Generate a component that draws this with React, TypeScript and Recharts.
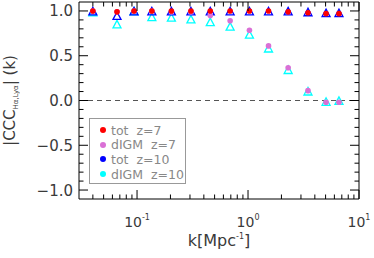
import React from 'react';
import { ScatterChart, Scatter, XAxis, YAxis, ReferenceLine, Legend, Label } from 'recharts';

const kValues = [0.04, 0.066, 0.094, 0.136, 0.204, 0.306, 0.457, 0.69, 1.03, 1.53, 2.3, 3.47, 5.05, 6.6];
const totZ7 = [1.0, 0.99, 1.0, 1.0, 1.0, 1.0, 1.0, 1.0, 1.0, 1.0, 0.99, 0.98, 0.97, 0.97];
const dIGMZ7 = [1.0, 0.99, 1.0, 1.0, 0.99, 0.99, 0.95, 0.89, 0.785, 0.61, 0.365, 0.11, -0.02, -0.02];
const totZ10 = [0.99, 0.94, 0.99, 0.99, 0.99, 0.99, 0.99, 0.99, 0.99, 0.99, 0.99, 0.98, 0.97, 0.97];
const dIGMZ10 = [0.98, 0.845, 0.99, 0.925, 0.92, 0.9, 0.87, 0.82, 0.73, 0.575, 0.335, 0.095, -0.02, -0.01];

const xMajor = [0.1, 1, 10];
const xMajorLabels = ['-1', '0', '1'];
const xMinor = [0.04, 0.05, 0.06, 0.07, 0.08, 0.09, 0.2, 0.3, 0.4, 0.5, 0.6, 0.7, 0.8, 0.9, 2, 3, 4, 5, 6, 7, 8, 9];
const yMajor = [-1, -0.5, 0, 0.5, 1];
const yMajorLabels = ['\u22121.0', '\u22120.5', '0.0', '0.5', '1.0'];
const yMinor = [-0.9, -0.8, -0.7, -0.6, -0.4, -0.3, -0.2, -0.1, 0.1, 0.2, 0.3, 0.4, 0.6, 0.7, 0.8, 0.9];

const FONT = 'DejaVu Sans';
const TEXT = '#3a3a3a';

const toPoints = (vals: number[]) => kValues.map((k, i) => ({ k, v: vals[i] }));

const series = [
  { name: 'tot z=7', color: '#ff0000', vals: totZ7, tri: false },
  { name: 'dIGM z=7', color: '#da70d6', vals: dIGMZ7, tri: false },
  { name: 'tot z=10', color: '#0000ff', vals: totZ10, tri: true },
  { name: 'dIGM z=10', color: '#00ffff', vals: dIGMZ10, tri: true },
];

const drawOrder = [3, 2, 1, 0];

const Dot = (color: string) => (p: any) => <circle cx={p.cx} cy={p.cy} r={2.8} fill={color} />;
const Tri = (color: string) => (p: any) => (
  <polygon
    points={`${p.cx},${p.cy - 4.5} ${p.cx - 4},${p.cy + 3} ${p.cx + 4},${p.cy + 3}`}
    fill="none"
    stroke={color}
    strokeWidth={1.3}
  />
);
const Nothing = () => <g />;

const isMajor = (list: number[], v: number) => list.some((m) => Math.abs(m - v) < 1e-9);

const XTick = ({ x, y, payload, dir, showLabel }: any) => {
  const major = isMajor(xMajor, payload.value);
  const len = major ? 9 : 4.5;
  const idx = xMajor.findIndex((m) => Math.abs(m - payload.value) < 1e-9);
  return (
    <g>
      <line x1={x} x2={x} y1={y} y2={y - dir * len} stroke="#000" strokeWidth={1} />
      {showLabel && major && (
        <text x={x} y={y + 28} textAnchor="middle" fontFamily={FONT} fontSize={14} fill={TEXT}>
          10
          <tspan dy={-7} fontSize={8}>{xMajorLabels[idx]}</tspan>
        </text>
      )}
    </g>
  );
};

const YTick = ({ x, y, payload, dir, showLabel }: any) => {
  const major = isMajor(yMajor, payload.value);
  const len = major ? 9 : 4.5;
  const idx = yMajor.findIndex((m) => Math.abs(m - payload.value) < 1e-9);
  return (
    <g>
      <line x1={x} x2={x + dir * len} y1={y} y2={y} stroke="#000" strokeWidth={1} />
      {showLabel && major && (
        <text x={x - 6} y={y + 5.5} textAnchor="end" fontFamily={FONT} fontSize={15} fill={TEXT}>
          {yMajorLabels[idx]}
        </text>
      )}
    </g>
  );
};

const YLabel = ({ viewBox }: any) => {
  const cy = viewBox.y + viewBox.height / 2;
  return (
    <text
      transform={`translate(15, ${cy}) rotate(-90)`}
      textAnchor="middle"
      fontFamily={FONT}
      fontSize={15}
      fill={TEXT}
    >
      |CCC
      <tspan dy={3} fontSize={7}>H{'\u03b1'},Ly{'\u03b1'}</tspan>
      <tspan dy={-3}>| (k)</tspan>
    </text>
  );
};

const XLabel = ({ viewBox }: any) => {
  const cx = viewBox.x + viewBox.width / 2;
  return (
    <text x={cx} y={viewBox.y + 47} textAnchor="middle" fontFamily={FONT} fontSize={16} fill={TEXT}>
      k[Mpc
      <tspan dy={-7} fontSize={8}>-1</tspan>
      <tspan dy={7}>]</tspan>
    </text>
  );
};

const LegendBox = () => (
  <div
    style={{
      border: '1px solid #999',
      width: 97,
      height: 66,
      boxSizing: 'border-box',
      padding: '4px 0 0 10px',
      fontFamily: FONT,
      fontSize: 12.5,
      color: '#888',
      background: '#fff',
    }}
  >
    {series.map((s) => (
      <div key={s.name} style={{ display: 'flex', alignItems: 'center', height: 14.6, whiteSpace: 'pre' }}>
        <span
          style={{ width: 6, height: 6, borderRadius: 3, background: s.color, display: 'inline-block', marginRight: 5 }}
        />
        {s.name.replace(' ', '  ')}
      </div>
    ))}
  </div>
);

export default function App() {
  return (
    <div style={{ width: 374, height: 258 }}>
      <style>{'body{margin:0}'}</style>
      <ScatterChart width={374} height={258} margin={{ top: 1, right: 14, bottom: 0, left: 0 }}>
        <XAxis
          xAxisId="b"
          dataKey="k"
          type="number"
          scale="log"
          domain={[0.03, 10]}
          allowDataOverflow
          ticks={[...xMajor, ...xMinor]}
          interval={0}
          height={59}
          tickSize={0}
          tickMargin={0}
          tickLine={false}
          axisLine={{ stroke: '#000' }}
          tick={<XTick dir={1} showLabel />}
        >
          <Label content={<XLabel />} />
        </XAxis>
        <XAxis
          xAxisId="t"
          orientation="top"
          dataKey="k"
          type="number"
          scale="log"
          domain={[0.03, 10]}
          allowDataOverflow
          ticks={[...xMajor, ...xMinor]}
          interval={0}
          height={1}
          tickSize={0}
          tickMargin={0}
          tickLine={false}
          axisLine={{ stroke: '#000' }}
          tick={<XTick dir={-1} showLabel={false} />}
        />
        <YAxis
          yAxisId="l"
          dataKey="v"
          type="number"
          domain={[-1.1, 1.1]}
          allowDataOverflow
          ticks={[...yMajor, ...yMinor]}
          interval={0}
          width={79}
          tickSize={0}
          tickMargin={0}
          tickLine={false}
          axisLine={{ stroke: '#000' }}
          tick={<YTick dir={1} showLabel />}
        >
          <Label content={<YLabel />} />
        </YAxis>
        <YAxis
          yAxisId="r"
          orientation="right"
          dataKey="v"
          type="number"
          domain={[-1.1, 1.1]}
          allowDataOverflow
          ticks={[...yMajor, ...yMinor]}
          interval={0}
          width={1}
          tickSize={0}
          tickMargin={0}
          tickLine={false}
          axisLine={{ stroke: '#000' }}
          tick={<YTick dir={-1} showLabel={false} />}
        />
        <ReferenceLine xAxisId="b" yAxisId="l" y={0} stroke="#555" strokeDasharray="5 4" strokeWidth={1} />
        <Scatter
          xAxisId="t"
          yAxisId="r"
          data={toPoints(totZ7)}
          shape={Nothing}
          legendType="none"
          isAnimationActive={false}
        />
        {drawOrder.map((i) => {
          const s = series[i];
          return (
            <Scatter
              key={s.name}
              name={s.name}
              xAxisId="b"
              yAxisId="l"
              data={toPoints(s.vals)}
              fill={s.color}
              shape={s.tri ? Tri(s.color) : Dot(s.color)}
              isAnimationActive={false}
            />
          );
        })}
        <Legend
          layout="vertical"
          align="center"
          verticalAlign="middle"
          content={<LegendBox />}
          wrapperStyle={{ position: 'absolute', left: 89, top: 118, width: 97, height: 66 }}
        />
      </ScatterChart>
    </div>
  );
}
